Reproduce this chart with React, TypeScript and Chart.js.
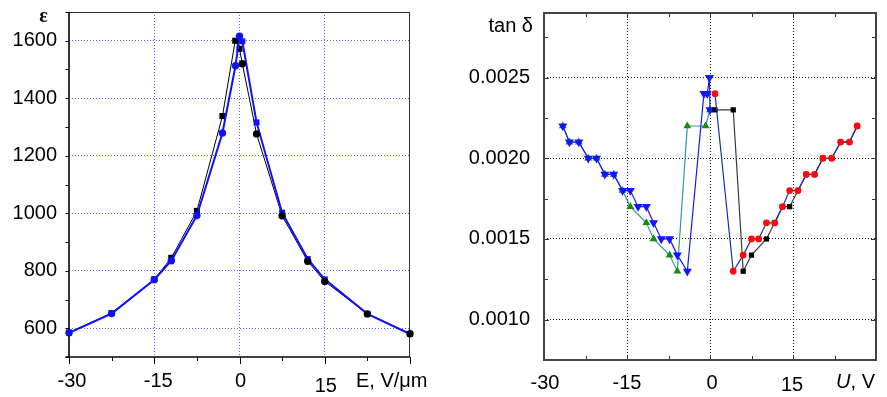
import React, { useEffect, useRef } from 'react';
import { Chart, registerables } from 'chart.js';

Chart.register(...registerables);

// ---------------- Left panel: permittivity ε vs field E ----------------
const E_BLACK = [-30, -22.5, -15, -12, -7.5, -3, -0.75, 0, 0.5, 3, 7.5, 12, 15, 22.5, 30];
const EPS_BLACK = [585, 653, 770, 845, 1008, 1338, 1600, 1572, 1520, 1276, 991, 833, 763, 650, 581];
const E_BLUE = [-30, -22.5, -15, -12, -7.5, -3, -0.7, 0, 0.5, 3, 7.5, 12, 15, 22.5, 30];
const EPS_BLUE = [584, 651, 769, 835, 992, 1279, 1513, 1616, 1598, 1316, 1002, 841, 770, 650, 580];
const E_TICKS = [-30, -15, 0, 15, 30];
const E_TICK_LABELS = ['-30', '-15', '0', '15', ''];
const E_MINOR = [-22.5, -7.5, 7.5, 22.5];
const EPS_TICKS = [600, 800, 1000, 1200, 1400, 1600];
const EPS_MINOR = [500, 700, 900, 1100, 1300, 1500, 1700];

// ---------------- Right panel: tan δ vs voltage U ----------------
const U_DOWN = [-26.6, -25.4, -23.7, -22, -20.5, -19, -17.4, -15.8, -14.4, -13, -11.5, -10.2, -8.8, -7.3, -5.9, -4.1, -1.1, -0.5, -0.1, 0];
const TAN_DOWN = [0.0022, 0.0021, 0.0021, 0.002, 0.002, 0.0019, 0.0019, 0.0018, 0.0018, 0.0017, 0.0017, 0.0016, 0.0015, 0.0015, 0.0014, 0.0013, 0.0024, 0.0024, 0.0025, 0.0023];
const U_UP = [-26.6, -25.4, -23.7, -22, -20.5, -19, -17.4, -15.8, -14.4, -11.5, -10.2, -7.3, -5.9, -4.1, -0.8, 0];
const TAN_UP = [0.0022, 0.0021, 0.0021, 0.002, 0.002, 0.0019, 0.0019, 0.0018, 0.0017, 0.0016, 0.0015, 0.0014, 0.0013, 0.0022, 0.0022, 0.0023];
const U_SQ = [0.9, 4.2, 6.0, 7.5, 10.2, 11.7, 13.1, 14.4, 15.9, 17.4, 18.9, 20.4, 22, 23.6, 25.2, 26.6];
const TAN_SQ = [0.0023, 0.0023, 0.0013, 0.0014, 0.0015, 0.0016, 0.0017, 0.0017, 0.0018, 0.0019, 0.0019, 0.002, 0.002, 0.0021, 0.0021, 0.0022];
const U_RED = [0.9, 4.2, 6.0, 7.5, 8.8, 10.2, 11.7, 13.1, 14.4, 15.9, 17.4, 18.9, 20.4, 22, 23.6, 25.2, 26.6];
const TAN_RED = [0.0024, 0.0013, 0.0014, 0.0015, 0.0015, 0.0016, 0.0016, 0.0017, 0.0018, 0.0018, 0.0019, 0.0019, 0.002, 0.002, 0.0021, 0.0021, 0.0022];
const U_TICKS = [-30, -15, 0, 15, 30];
const U_TICK_LABELS = ['-30', '-15', '0', '15', ''];
const U_MINOR = [-22.5, -7.5, 7.5, 22.5];
const TAN_TICKS = [0.001, 0.0015, 0.002, 0.0025];
const TAN_MINOR = [0.00075, 0.00125, 0.00175, 0.00225, 0.00275];

const FONT = '"Liberation Sans", Arial, Helvetica, sans-serif';
const pts = (xs: number[], ys: number[]) => xs.map((x, i) => ({ x, y: ys[i] }));

function seg(ctx: CanvasRenderingContext2D, x1: number, y1: number, x2: number, y2: number) {
  ctx.beginPath();
  ctx.moveTo(x1, y1);
  ctx.lineTo(x2, y2);
  ctx.stroke();
}

const leftDeco = {
  id: 'leftDeco',
  beforeDatasetsDraw(chart: any) {
    const { ctx, chartArea: a } = chart;
    const xs = chart.scales.x;
    const ys = chart.scales.y;
    ctx.save();
    ctx.strokeStyle = '#333';
    ctx.lineWidth = 1;
    seg(ctx, a.left, a.top + 0.5, a.right, a.top + 0.5);
    seg(ctx, a.right - 0.5, a.top, a.right - 0.5, a.bottom);
    ctx.strokeStyle = '#000';
    ctx.lineWidth = 1.6;
    seg(ctx, a.left, a.top, a.left, a.bottom);
    seg(ctx, a.left - 3.5, a.bottom, a.right, a.bottom);
    ctx.lineWidth = 1;
    [...EPS_TICKS, ...EPS_MINOR].forEach((v) => {
      const y = Math.round(ys.getPixelForValue(v)) + 0.5;
      seg(ctx, a.left - 3.5, y, a.left, y);
    });
    E_TICKS.forEach((v) => {
      const x = Math.round(xs.getPixelForValue(v)) + 0.5;
      seg(ctx, x, a.bottom, x, a.bottom + 7);
    });
    E_MINOR.forEach((v) => {
      const x = Math.round(xs.getPixelForValue(v)) + 0.5;
      seg(ctx, x, a.bottom, x, a.bottom + 4);
    });
    ctx.restore();
  },
  afterDraw(chart: any) {
    const { ctx, chartArea: a } = chart;
    const xs = chart.scales.x;
    const nudge = [3, 4, 1, 1, 0];
    ctx.save();
    ctx.fillStyle = '#000';
    ctx.font = `20px ${FONT}`;
    ctx.textAlign = 'center';
    ctx.textBaseline = 'alphabetic';
    E_TICKS.forEach((v, i) => {
      const lbl = E_TICK_LABELS[i];
      if (!lbl) return;
      ctx.fillText(lbl, xs.getPixelForValue(v) + nudge[i], a.bottom + (v === 15 ? 35 : 30));
    });
    ctx.textAlign = 'right';
    ctx.fillText('E, V/\u03bcm', a.right + 17.5, a.bottom + 30);
    ctx.font = `bold 20px "Liberation Serif", "DejaVu Serif", serif`;
    ctx.textAlign = 'center';
    ctx.fillText('\u03b5', 43.5, 22);
    ctx.restore();
  },
};

const rightDeco = {
  id: 'rightDeco',
  beforeDatasetsDraw(chart: any) {
    const { ctx, chartArea: a } = chart;
    const xs = chart.scales.x;
    const ys = chart.scales.y;
    ctx.save();
    ctx.strokeStyle = '#333';
    ctx.lineWidth = 1;
    const yt = (vals: number[], len: number) =>
      vals.forEach((v) => {
        const y = Math.round(ys.getPixelForValue(v)) + 0.5;
        seg(ctx, a.left, y, a.left + len, y);
        seg(ctx, a.right, y, a.right - len, y);
      });
    const xt = (vals: number[], len: number) =>
      vals.forEach((v) => {
        const x = Math.round(xs.getPixelForValue(v)) + 0.5;
        seg(ctx, x, a.bottom, x, a.bottom - len);
        seg(ctx, x, a.top, x, a.top + len);
      });
    yt(TAN_TICKS, 5);
    yt(TAN_MINOR, 4);
    xt(U_TICKS.slice(1, -1), 5);
    xt(U_MINOR, 4);
    ctx.lineWidth = 2;
    ctx.strokeStyle = '#444';
    ctx.strokeRect(a.left, a.top, a.right - a.left, a.bottom - a.top);
    ctx.restore();
  },
  afterDraw(chart: any) {
    const { ctx, chartArea: a } = chart;
    const xs = chart.scales.x;
    const nudge = [1, 0, 2, -1, 0];
    ctx.save();
    ctx.fillStyle = '#000';
    ctx.font = `20px ${FONT}`;
    ctx.textAlign = 'center';
    ctx.textBaseline = 'alphabetic';
    U_TICKS.forEach((v, i) => {
      const lbl = U_TICK_LABELS[i];
      if (!lbl) return;
      ctx.fillText(lbl, xs.getPixelForValue(v) + nudge[i], a.bottom + (v === 15 ? 31 : 28.5));
    });
    ctx.textAlign = 'right';
    const rest = ', V';
    const rx = a.right - 1;
    ctx.fillText(rest, rx, a.bottom + 28);
    const w = ctx.measureText(rest).width;
    ctx.font = `italic 20px ${FONT}`;
    ctx.fillText('U', rx - w, a.bottom + 28);
    ctx.font = `20px ${FONT}`;
    ctx.fillText('tan \u03b4', 93, 32);
    ctx.restore();
  },
};

function LeftPanel() {
  const ref = useRef<HTMLCanvasElement>(null);
  useEffect(() => {
    const canvas = ref.current!;
    const left = (c: any) => (c.dataset.data[c.dataIndex]?.x ?? 0) <= 0;
    const chart = new Chart(canvas, {
      type: 'scatter',
      data: {
        datasets: [
          {
            data: pts(E_BLACK, EPS_BLACK),
            showLine: true,
            borderColor: '#000',
            borderWidth: 1,
            backgroundColor: '#000',
            pointBackgroundColor: '#000',
            pointBorderColor: '#000',
            pointBorderWidth: 0,
            pointStyle: 'rect',
            pointRadius: (c: any) => (left(c) ? 4.3 : 0),
            order: 3,
            clip: false,
          },
          {
            data: pts(E_BLUE, EPS_BLUE),
            showLine: true,
            borderColor: '#1010ff',
            borderWidth: 2,
            backgroundColor: '#1010ff',
            pointBackgroundColor: '#1010ff',
            pointBorderColor: '#1010ff',
            pointBorderWidth: 0,
            pointStyle: (c: any) => (left(c) ? 'circle' : 'rect'),
            pointRadius: (c: any) => (left(c) ? 3.7 : 4.2),
            order: 2,
            clip: false,
          },
          {
            data: pts(E_BLACK, EPS_BLACK),
            showLine: false,
            backgroundColor: '#000',
            pointBackgroundColor: '#000',
            pointBorderColor: '#000',
            pointBorderWidth: 0,
            pointStyle: 'circle',
            pointRadius: (c: any) => (left(c) ? 0 : 3.7),
            order: 1,
            clip: false,
          },
        ] as any,
      },
      options: {
        responsive: false,
        animation: false,
        events: [],
        layout: { padding: { left: 0, top: 12, right: 30, bottom: 0 } },
        plugins: { legend: { display: false }, tooltip: { enabled: false } },
        elements: { line: { tension: 0 } },
        scales: {
          x: {
            type: 'linear',
            min: -30,
            max: 30,
            afterBuildTicks: (s: any) => {
              s.ticks = E_TICKS.map((v) => ({ value: v }));
            },
            ticks: { display: false },
            grid: {
              color: (c: any) => (c.tick && Math.abs(c.tick.value) === 30 ? 'rgba(0,0,0,0)' : '#5a5aff'),
              lineWidth: 1,
              drawTicks: false,
            },
            border: { display: false, dash: [1, 2] },
            afterFit: (s: any) => {
              s.height = 40;
              s.paddingLeft = 0;
              s.paddingRight = 0;
            },
          },
          y: {
            type: 'linear',
            min: 500,
            max: 1700,
            afterBuildTicks: (s: any) => {
              s.ticks = EPS_TICKS.map((v) => ({ value: v }));
            },
            ticks: {
              color: '#000',
              padding: 12,
              font: { family: FONT, size: 20 },
              callback: (v: any) => String(v),
            },
            grid: { color: '#5a5aff', lineWidth: 1, drawTicks: false },
            border: { display: false, dash: [1, 2] },
            afterFit: (s: any) => {
              s.width = 69;
              s.paddingTop = 0;
              s.paddingBottom = 0;
            },
          },
        },
      } as any,
      plugins: [leftDeco],
    });
    return () => chart.destroy();
  }, []);
  return (
    <canvas
      ref={ref}
      width={440}
      height={397}
      style={{ position: 'absolute', left: 0, top: 0, width: 440, height: 397, display: 'block' }}
    />
  );
}

function RightPanel() {
  const ref = useRef<HTMLCanvasElement>(null);
  useEffect(() => {
    const canvas = ref.current!;
    const chart = new Chart(canvas, {
      type: 'scatter',
      data: {
        datasets: [
          {
            data: pts(U_UP, TAN_UP),
            showLine: true,
            borderColor: '#2a9a9a',
            borderWidth: 1.2,
            pointBackgroundColor: '#178a17',
            pointBorderColor: '#178a17',
            pointBorderWidth: 0,
            pointStyle: 'triangle',
            pointRadius: 4.6,
            order: 4,
            clip: false,
          },
          {
            data: pts(U_DOWN, TAN_DOWN),
            showLine: true,
            borderColor: '#1a1ae8',
            borderWidth: 1.2,
            pointBackgroundColor: '#1414ff',
            pointBorderColor: '#1414ff',
            pointBorderWidth: 0,
            pointStyle: 'triangle',
            pointRotation: 180,
            pointRadius: 5.2,
            order: 3,
            clip: false,
          },
          {
            data: pts(U_SQ, TAN_SQ),
            showLine: true,
            borderColor: '#3a3a3a',
            borderWidth: 1.2,
            pointBackgroundColor: '#000',
            pointBorderColor: '#000',
            pointBorderWidth: 0,
            pointStyle: 'rect',
            pointRadius: 3.7,
            order: 2,
            clip: false,
          },
          {
            data: pts(U_RED, TAN_RED),
            showLine: true,
            borderColor: '#1c2cb0',
            borderWidth: 1.2,
            pointBackgroundColor: '#ff0808',
            pointBorderColor: '#ff0808',
            pointBorderWidth: 0,
            pointStyle: 'circle',
            pointRadius: 3.4,
            order: 1,
            clip: false,
          },
        ] as any,
      },
      options: {
        responsive: false,
        animation: false,
        events: [],
        layout: { padding: { left: 0, top: 13, right: 11, bottom: 0 } },
        plugins: { legend: { display: false }, tooltip: { enabled: false } },
        elements: { line: { tension: 0 } },
        scales: {
          x: {
            type: 'linear',
            min: -30,
            max: 30,
            afterBuildTicks: (s: any) => {
              s.ticks = U_TICKS.map((v) => ({ value: v }));
            },
            ticks: { display: false },
            grid: {
              color: (c: any) => (c.tick && Math.abs(c.tick.value) === 30 ? 'rgba(0,0,0,0)' : '#111'),
              lineWidth: 1,
              drawTicks: false,
            },
            border: { display: false, dash: [1, 2] },
            afterFit: (s: any) => {
              s.height = 37;
              s.paddingLeft = 0;
              s.paddingRight = 0;
            },
          },
          y: {
            type: 'linear',
            min: 0.00075,
            max: 0.0029,
            afterBuildTicks: (s: any) => {
              s.ticks = TAN_TICKS.map((v) => ({ value: v }));
            },
            ticks: {
              color: '#000',
              padding: 14,
              font: { family: FONT, size: 20 },
              callback: (v: any) => Number(v).toFixed(4),
            },
            grid: { color: '#111', lineWidth: 1, drawTicks: false },
            border: { display: false, dash: [1, 2] },
            afterFit: (s: any) => {
              s.width = 104;
              s.paddingTop = 0;
              s.paddingBottom = 0;
            },
          },
        },
      } as any,
      plugins: [rightDeco],
    });
    return () => chart.destroy();
  }, []);
  return (
    <canvas
      ref={ref}
      width={447}
      height={397}
      style={{ position: 'absolute', left: 440, top: 0, width: 447, height: 397, display: 'block' }}
    />
  );
}

export default function App() {
  return (
    <div style={{ position: 'absolute', left: 0, top: 0, width: 887, height: 397, background: '#fff', overflow: 'hidden' }}>
      <LeftPanel />
      <RightPanel />
    </div>
  );
}
